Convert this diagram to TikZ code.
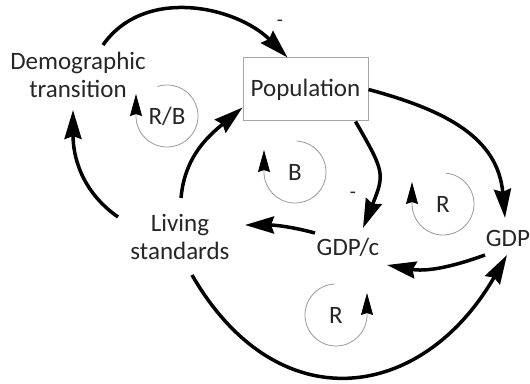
\documentclass[tikz,border=0pt]{standalone}
\usepackage{fontspec}
\setmainfont{Carlito}
\usetikzlibrary{arrows.meta}
\tikzset{v/.style={align=center,font=\fontsize{25}{28}\selectfont,text=black!85,inner sep=2pt},
 bx/.style={v,draw=gray!70,line width=1pt,minimum width=125pt,minimum height=63pt},
 ar/.style={line width=3.5pt,-{Stealth[length=29pt,width=17pt,inset=3pt]}},
 lp/.style={draw=gray!80,line width=.8pt,-{Stealth[length=22pt,width=12pt,inset=2pt,color=black,fill=black]}},
 lbl/.style={font=\fontsize{25}{28}\selectfont,text=black!85,inner sep=1pt},
 sg/.style={font=\fontsize{20}{24}\selectfont,text=black!85,inner sep=0pt}}

\begin{document}
\begin{tikzpicture}[x=1pt,y=1pt]
\useasboundingbox (0,0) rectangle (530,383);
\node[v](dt) at (78,308){Demographic\\transition};\node[bx](pop) at (305.5,293.5){Population};
\node[v](ls) at (180,146.5){Living\\standards};\node[v](gdpc) at (348,136){GDP/c};\node[v](gdp) at (508,145){GDP};
\node[lbl](rb) at (167,267){R/B};\node[lbl](b) at (295,211){B};\node[lbl](r1) at (443,179){R};\node[lbl](r2) at (336,68){R};
\node[sg](m1) at (280,360){-};\node[sg](m2) at (353,188){-};
% loop markers
\draw[lp]([shift={(108:31)}]rb.center) arc[start angle=108,end angle=-180,radius=31]--++(0,22);
\draw[lp]([shift={(87:31)}]b.center) arc[start angle=87,end angle=-180,radius=31]--++(0,22);
\draw[lp]([shift={(85:31)}]r1.center) arc[start angle=85,end angle=-180,radius=31]--++(0,22);
\draw[lp]([shift={(93:31)}]r2.center) arc[start angle=93,end angle=360,radius=31]--++(0,22);
% links
\draw[ar]([shift={(25,30)}]dt.center) to[out=55,in=135] ([xshift=-18pt]pop.north);
\draw[ar]([shift={(-62,19.5)}]ls.center) to[out=145,in=-90] ([shift={(-5,-35)}]dt.center);
\draw[ar]([shift={(1,38.5)}]ls.center) to[out=85,in=220] ([yshift=-18pt]pop.west);
\draw[ar]([xshift=50pt]pop.south) to[out=-60,in=68,looseness=1.4] ([shift={(15,19)}]gdpc.center);
\draw[ar](pop.east) to[out=-15,in=95,looseness=1.1] ([shift={(-3,20)}]gdp.center);
\draw[ar]([shift={(-23,-17)}]gdp.center) to[out=200,in=-10] ([shift={(39,-18)}]gdpc.center);
\draw[ar]([shift={(-33,14)}]gdpc.center) to[out=165,in=0] ([shift={(65,11.5)}]ls.center);
\draw[ar]([shift={(12,-38.5)}]ls.center) to[out=-60,in=-120,looseness=1.38] ([shift={(-1,-17)}]gdp.center);
\end{tikzpicture}
\end{document}
